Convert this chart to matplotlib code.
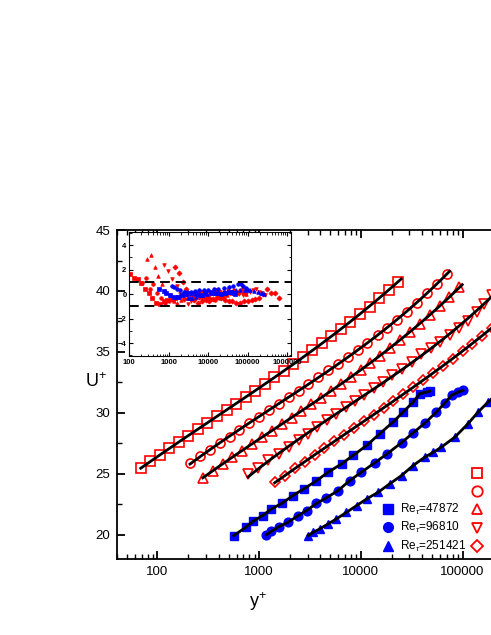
import numpy as np
import matplotlib
matplotlib.use("Agg")
import matplotlib.pyplot as plt
from matplotlib.lines import Line2D

plt.rcParams['font.family'] = ['Liberation Sans', 'DejaVu Sans']
plt.rcParams['mathtext.fontset'] = 'custom'
plt.rcParams['mathtext.rm'] = 'Liberation Sans'
plt.rcParams['mathtext.it'] = 'Liberation Sans:italic'

# open red series (y+, U+)
x_sq = [68.5, 85.1, 105, 131, 163, 201, 250, 310, 385, 478, 593, 736, 912, 1130,
        1410, 1750, 2160, 2690, 3330, 4130, 5130, 6370, 7890, 9790, 12200, 15100,
        18700, 23200]
u_sq = [25.5, 26.02, 26.55, 27.07, 27.6, 28.12, 28.65, 29.17, 29.7, 30.22, 30.75,
        31.27, 31.8, 32.37, 32.93, 33.47, 34.02, 34.57, 35.13, 35.69, 36.27, 36.85,
        37.44, 38.07, 38.72, 39.42, 40.12, 40.77]

x_ci = [209, 261, 327, 408, 511, 638, 798, 998, 1250, 1560, 1950, 2440, 3050, 3810,
        4760, 5960, 7450, 9310, 11600, 14600, 18200, 22800, 28400, 35600, 44500,
        55600, 69500]
u_ci = [25.86, 26.44, 26.98, 27.51, 28.05, 28.59, 29.13, 29.67, 30.21, 30.75, 31.29,
        31.82, 32.36, 32.92, 33.48, 34.04, 34.59, 35.16, 35.73, 36.35, 36.99, 37.63,
        38.29, 39.03, 39.8, 40.61, 41.4]

x_tr = [279, 348, 436, 545, 681, 851, 1060, 1330, 1660, 2080, 2600, 3250, 4060, 5080,
        6350, 7940, 9930, 12400, 15500, 19400, 24300, 30300, 37900, 47400, 59300,
        74100, 92500]
u_tr = [24.66, 25.26, 25.8, 26.35, 26.89, 27.43, 27.98, 28.52, 29.06, 29.61, 30.15,
        30.7, 31.24, 31.8, 32.37, 32.94, 33.51, 34.11, 34.7, 35.32, 35.95, 36.63,
        37.31, 38.04, 38.76, 39.48, 40.29]

x_dn = [778, 975, 1220, 1570, 1970, 2470, 3030, 3740, 4660, 5750, 7100, 8770, 10800,
        13400, 16500, 20400, 25100, 31500, 39400, 49400, 59700, 74800, 92500, 113000,
        137000, 164000, 195000, 229000, 269000]
u_dn = [24.99, 25.49, 26.14, 26.64, 27.18, 27.73, 28.28, 28.82, 29.38, 29.91, 30.44,
        30.97, 31.49, 32.02, 32.55, 33.08, 33.6, 34.2, 34.8, 35.35, 35.82, 36.38,
        36.92, 37.55, 38.25, 38.95, 39.65, 40.3, 40.8]

x_di = [1420, 1790, 2240, 2800, 3500, 4380, 5470, 6840, 8550, 10700, 13400, 16700,
        20900, 26100, 32700, 40800, 51100, 63800, 79800, 99800, 125000, 156000,
        195000, 244000, 305000, 380000, 479000, 603000]
u_di = [24.3, 24.8, 25.45, 26.0, 26.55, 27.1, 27.65, 28.2, 28.75, 29.3, 29.86, 30.41,
        30.96, 31.52, 32.09, 32.66, 33.24, 33.83, 34.43, 35.05, 35.68, 36.33, 37.0,
        37.7, 38.4, 39.1, 39.8, 40.5]

# filled blue series
x_bsq = [562, 738, 871, 1080, 1320, 1680, 2150, 2750, 3600, 4760, 6460, 8380, 11400,
         15300, 20700, 26000, 32600, 37900, 44200, 47500]
u_bsq = [19.92, 20.6, 21.1, 21.56, 22.11, 22.58, 23.21, 23.76, 24.38, 25.12, 25.81,
         26.5, 27.32, 28.28, 29.24, 30.06, 30.88, 31.57, 31.7, 31.78]

x_bci = [1180, 1320, 1570, 1920, 2420, 2920, 3660, 4590, 5970, 7780, 10100, 13700,
         17900, 25100, 32600, 42500, 55300, 66800, 77800, 90400, 101000]
u_bci = [20.0, 20.27, 20.66, 21.01, 21.56, 21.97, 22.57, 23.02, 23.62, 24.44, 25.12,
         25.9, 26.6, 27.55, 28.35, 29.15, 30.06, 30.8, 31.43, 31.7, 31.84]

x_btr = [3030, 3390, 3940, 4760, 5750, 7210, 9060, 11400, 14800, 19200, 25100, 32600,
         42500, 51300, 61900, 83800, 113000, 142000, 178000, 214000, 234000, 251000]
u_btr = [19.92, 20.19, 20.47, 20.88, 21.29, 21.83, 22.38, 22.93, 23.48, 24.17, 24.85,
         25.67, 26.36, 26.75, 27.18, 28.0, 29.1, 30.06, 30.88, 31.5, 31.8, 31.95]

# deviations shown in the inset (same y+ points)
d_sq = [1.8, 1.7, 1.6, 1.35, 1.2, 0.9, 0.4, 0.1, -0.3, -0.7, -0.8, -0.6, -0.5, -0.4,
        -0.3, -0.2, -0.1, 0.0, 0.0, -0.1, 0.1, 0.2, 0.0, -0.2, 0.1, 0.3, 0.2, 0.0]
d_ci = [0.9, 1.3, 0.4, 0.8, 0.1, -0.3, -0.7, -0.6, -0.5, -0.3, -0.2, -0.4, -0.3, -0.1,
        0.0, 0.1, -0.1, -0.2, -0.4, -0.5, -0.3, -0.1, 0.0, 0.2, 0.3, 0.1, 0.4]
d_tr = [2.9, 3.2, 2.2, 1.5, 0.8, 0.2, -0.4, -0.6, -0.7, -0.5, -0.3, -0.2, -0.1, 0.0,
        -0.2, -0.3, -0.1, 0.1, 0.2, 0.0, -0.2, -0.1, 0.1, 0.2, 0.3, 0.2, 0.0]
d_dn = [2.4, 1.9, 1.2, 0.7, 0.0, -0.5, -0.8, -0.6, -0.4, -0.3, -0.2, 0.0, 0.1, 0.0,
        -0.1, 0.1, 0.2, 0.3, 0.2, 0.1, 0.0, -0.1, 0.0, 0.2, 0.3, 0.4, 0.2, 0.1, -0.1]
d_di = [2.2, 1.7, 1.0, 0.4, -0.2, -0.5, -0.7, -0.6, -0.5, -0.6, -0.4, -0.2, -0.3, -0.5,
        -0.6, -0.6, -0.7, -0.7, -0.6, -0.6, -0.5, -0.4, -0.3, 0.0, 0.4, 0.1, 0.1, -0.3]
d_bsq = [0.4, 0.25, 0.1, -0.1, -0.2, -0.25, -0.1, 0.0, 0.05, 0.0, -0.05, 0.1, 0.15,
         0.1, 0.0, 0.1, 0.2, 0.15, 0.05, 0.0]
d_bci = [0.7, 0.55, 0.4, 0.3, 0.2, 0.15, 0.2, 0.25, 0.3, 0.35, 0.3, 0.4, 0.45, 0.5,
         0.6, 0.7, 0.8, 0.85, 0.7, 0.5, 0.3]
d_btr = [-0.3, -0.35, -0.3, -0.2, -0.1, -0.05, 0.0, 0.05, 0.1, 0.1, 0.15, 0.2, 0.25,
         0.3, 0.3, 0.35, 0.3, 0.25, 0.2, 0.1, 0.05, 0.0]

blue_labels = [r'Re$_\tau$=47872', r'Re$_\tau$=96810', r'Re$_\tau$=251421']
x_major = [100, 1000, 10000, 100000]

red_sets = [(x_sq, u_sq, d_sq, 's'), (x_ci, u_ci, d_ci, 'o'), (x_tr, u_tr, d_tr, '^'),
            (x_dn, u_dn, d_dn, 'v'), (x_di, u_di, d_di, 'D')]
blue_sets = [(x_bsq, u_bsq, d_bsq, 's'), (x_bci, u_bci, d_bci, 'o'),
             (x_btr, u_btr, d_btr, '^')]

red = '#ff0000'
blue = '#0000ff'

fig = plt.figure(figsize=(4.91, 6.35), dpi=100)
ax = fig.add_axes([0.2383, 0.1197, 0.911, 0.518])

for xs, us, ds, m in red_sets:
    ms = 5.2 if m == 'D' else 6.5
    ax.plot(xs, us, linestyle='none', marker=m, ms=ms, mfc='none', mec=red, mew=1.2, zorder=2)
    # fitted curve through the points (first point sits below the fit)
    lx = np.log10(xs[1:])
    c = np.polyfit(lx, us[1:], 3)
    xx = np.linspace(np.log10(xs[0]), np.log10(xs[-1]) + 0.03, 200)
    ax.plot(10 ** xx, np.polyval(c, xx), color='black', lw=2, zorder=3)

for xs, us, ds, m in blue_sets:
    ax.plot(xs, us, linestyle='none', marker=m, ms=6.3, mfc=blue, mec=blue, zorder=2)
    ax.plot(xs, us, color='black', lw=2, zorder=3)

ax.set_xscale('log')
ax.set_xlim(40, 1e6)
ax.set_ylim(18, 45)
ax.set_xticks(x_major)
ax.set_yticks([20, 25, 30, 35, 40, 45])
ax.set_yticks([22.5, 27.5, 32.5, 37.5, 42.5], minor=True)
ax.xaxis.set_major_formatter(matplotlib.ticker.FuncFormatter(lambda v, p: '%d' % v))
ax.tick_params(which='both', direction='in', top=True, right=True, labelsize=9.5)
ax.tick_params(which='major', length=6, width=1.3, pad=5)
ax.tick_params(which='minor', length=3.5, width=1.0)
for s in ax.spines.values():
    s.set_linewidth(1.3)
ax.set_xlabel(r'y$^{+}$', fontsize=13, va='center', ha='center')
ax.xaxis.set_label_coords(0.315, -0.131)
ax.set_ylabel(r'U$^{+}$', fontsize=13, rotation=0, va='center', ha='center')
ax.yaxis.set_label_coords(-0.047, 0.538)

# legend: blue labelled entries, red markers as a second column
h_blue = [Line2D([], [], linestyle='none', marker=m, ms=7, mfc=blue, mec=blue)
          for m in ['s', 'o', '^']]
h_red = [Line2D([], [], linestyle='none', marker=m, ms=(6 if m == 'D' else 7.5),
                mfc='none', mec=red, mew=1.3) for m in ['s', 'o', '^', 'v', 'D']]
leg_b = fig.legend(h_blue, blue_labels, loc='lower left', bbox_to_anchor=(0.766, 0.1186),
                   frameon=False, fontsize=8.5, handlelength=1.0, handletextpad=0.5,
                   labelspacing=0.27, borderpad=0)
leg_r = fig.legend(h_red, [''] * 5, loc='lower left', bbox_to_anchor=(0.947, 0.120),
                   frameon=False, fontsize=8.5, handlelength=1.0, handletextpad=0.0,
                   labelspacing=0.53, borderpad=0)

# inset
ins = fig.add_axes([0.2633, 0.4394, 0.3287, 0.1953])
ins.set_facecolor('white')
for xs, us, ds, m in red_sets:
    ins.plot(xs, ds, linestyle='none', marker=m, ms=2.6, mfc=red, mec=red, mew=0.5)
for xs, us, ds, m in blue_sets:
    ins.plot(xs, ds, linestyle='none', marker=m, ms=2.6, mfc=blue, mec=blue, mew=0.5)
ins.axhline(1, color='black', lw=1.4, dashes=(5, 3))
ins.axhline(-1, color='black', lw=1.4, dashes=(5, 3))
ins.set_xscale('log')
ins.set_xlim(100, 1.22e6)
ins.set_ylim(-5.05, 5.07)
ins.set_xticks([100, 1000, 10000, 100000, 1000000])
ins.xaxis.set_major_formatter(matplotlib.ticker.FuncFormatter(lambda v, p: '%d' % v))
ins.set_yticks([-4, -2, 0, 2, 4])
ins.set_yticks([-5, -3, -1, 1, 3, 5], minor=True)
ins.tick_params(which='both', direction='in', top=True, right=True, labelsize=5.5, pad=2)
ins.tick_params(which='major', length=3, width=0.8)
ins.tick_params(which='minor', length=1.8, width=0.6)
for lab in ins.get_xticklabels() + ins.get_yticklabels():
    lab.set_fontweight('bold')
for s in ins.spines.values():
    s.set_linewidth(0.8)

fig.savefig('out.png', dpi=100)
